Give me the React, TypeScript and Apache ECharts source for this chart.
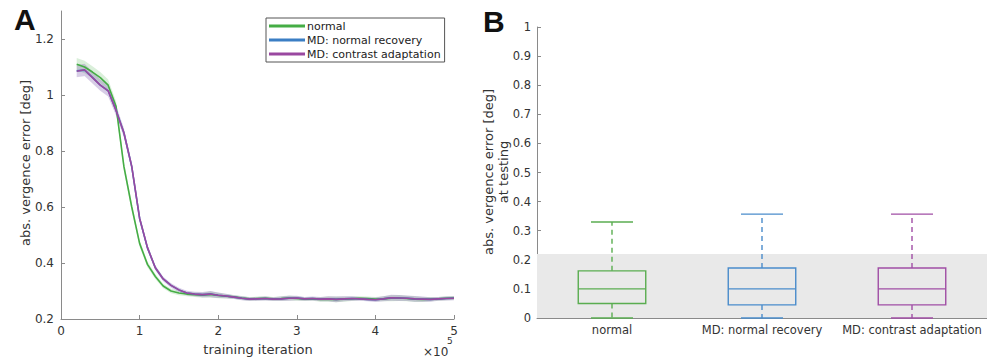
import React, { useEffect, useRef } from "react";
import * as echarts from "echarts";

// ---- Panel A data (training iteration in units of 1e5) ----
const iterations = [
  0.2, 0.3, 0.4, 0.5, 0.6, 0.7, 0.8, 0.9, 1.0, 1.1, 1.2, 1.3, 1.4, 1.5, 1.6, 1.7, 1.8, 1.9, 2.0,
  2.1, 2.2, 2.3, 2.4, 2.5, 2.6, 2.7, 2.8, 2.9, 3.0, 3.1, 3.2, 3.3, 3.4, 3.5, 3.6, 3.7, 3.8, 3.9,
  4.0, 4.1, 4.2, 4.3, 4.4, 4.5, 4.6, 4.7, 4.8, 4.9, 5.0,
];
const normalErr = [
  1.110, 1.100, 1.082, 1.062, 1.035, 0.960, 0.745, 0.600, 0.470, 0.395, 0.352, 0.318, 0.300, 0.293,
  0.289, 0.287, 0.285, 0.288, 0.284, 0.281, 0.279, 0.275, 0.272, 0.273, 0.274, 0.272, 0.273, 0.275,
  0.273, 0.271, 0.272, 0.270, 0.271, 0.270, 0.271, 0.272, 0.274, 0.273, 0.271, 0.272, 0.274, 0.275,
  0.273, 0.271, 0.270, 0.271, 0.272, 0.274, 0.275,
];
const recoveryErr = [
  1.086, 1.089, 1.063, 1.035, 1.015, 0.946, 0.865, 0.744, 0.559, 0.454, 0.383, 0.343, 0.320, 0.304,
  0.293, 0.289, 0.287, 0.289, 0.285, 0.282, 0.278, 0.274, 0.271, 0.272, 0.273, 0.271, 0.272, 0.274,
  0.275, 0.272, 0.273, 0.271, 0.272, 0.270, 0.272, 0.273, 0.272, 0.270, 0.269, 0.272, 0.276, 0.275,
  0.274, 0.272, 0.271, 0.270, 0.272, 0.273, 0.274,
];
const adaptErr = [
  1.085, 1.090, 1.062, 1.035, 1.015, 0.945, 0.865, 0.745, 0.560, 0.455, 0.383, 0.343, 0.320, 0.304,
  0.293, 0.289, 0.287, 0.289, 0.285, 0.282, 0.278, 0.274, 0.271, 0.272, 0.273, 0.271, 0.272, 0.274,
  0.275, 0.272, 0.273, 0.271, 0.272, 0.270, 0.272, 0.273, 0.272, 0.270, 0.269, 0.272, 0.276, 0.275,
  0.274, 0.272, 0.271, 0.270, 0.272, 0.273, 0.274,
];
const bandHalf = [
  0.022, 0.022, 0.021, 0.020, 0.020, 0.018, 0.016, 0.014, 0.012, 0.010, 0.009, 0.008, 0.008, 0.008,
  0.008, 0.008, 0.009, 0.011, 0.010, 0.008, 0.007, 0.007, 0.007, 0.007, 0.007, 0.007, 0.008, 0.009,
  0.008, 0.007, 0.007, 0.008, 0.009, 0.010, 0.009, 0.008, 0.007, 0.007, 0.008, 0.009, 0.011, 0.011,
  0.010, 0.010, 0.009, 0.008, 0.007, 0.007, 0.007,
];

// ---- Panel B data ----
const boxCategories = ["normal", "MD: normal recovery", "MD: contrast adaptation"];
const boxMin = [0, 0, 0];
const boxQ1 = [0.05, 0.045, 0.045];
const boxMedian = [0.1, 0.1, 0.1];
const boxQ3 = [0.162, 0.172, 0.172];
const boxMax = [0.33, 0.357, 0.357];
const shadeLimit = 0.22;

const lineColors = ["#45ad45", "#3b7ec4", "#9a48a0"];
const boxColors = ["#5aad50", "#4a8ccb", "#a04ea5"];
const bandColors = ["rgba(69,173,69,0.2)", "rgba(59,126,196,0.12)", "rgba(154,72,160,0.2)"];
const seriesNames = ["normal", "MD: normal recovery", "MD: contrast adaptation"];

const FONT = "DejaVu Sans";
const AXIS_GRAY = "#8a8a8a";
const TEXT = "#333";

export default function App() {
  const ref = useRef<HTMLDivElement>(null);

  useEffect(() => {
    if (!ref.current) return;
    const chart = echarts.init(ref.current, undefined, { renderer: "svg" });
    const curves = [normalErr, recoveryErr, adaptErr];

    const bandSeries: any[] = [];
    const lineSeries: any[] = [];
    curves.forEach((vals, k) => {
      const bandData = iterations.map((x, i) => [x, vals[i] - bandHalf[i], vals[i] + bandHalf[i]]);
      bandSeries.push({
        type: "custom",
        xAxisIndex: 0,
        yAxisIndex: 0,
        data: bandData,
        encode: { x: 0, y: [1, 2] },
        silent: true,
        z: 1,
        renderItem: (params: any, api: any) => {
          if (params.dataIndex !== 0) return null;
          const upper = bandData.map((d) => api.coord([d[0], d[2]]));
          const lower = bandData.map((d) => api.coord([d[0], d[1]])).reverse();
          return {
            type: "polygon",
            shape: { points: upper.concat(lower) },
            style: { fill: bandColors[k], stroke: "none" },
          };
        },
      });
      lineSeries.push({
        name: seriesNames[k],
        type: "line",
        xAxisIndex: 0,
        yAxisIndex: 0,
        data: iterations.map((x, i) => [x, vals[i]]),
        showSymbol: false,
        lineStyle: { color: lineColors[k], width: 1.6 },
        itemStyle: { color: lineColors[k] },
        z: 3,
      });
    });

    const boxData = boxCategories.map((_, i) => [i, boxMin[i], boxQ1[i], boxMedian[i], boxQ3[i], boxMax[i]]);

    const tickStyle = { show: true, inside: true, length: 4, lineStyle: { color: AXIS_GRAY } };
    const labelStyle = { color: TEXT, fontFamily: FONT, fontSize: 12 };

    chart.setOption({
      animation: false,
      backgroundColor: "#fff",
      grid: [
        { left: 61, top: 11, width: 393, height: 308 },
        { left: 537, top: 27, width: 450, height: 291 },
      ],
      legend: {
        data: seriesNames,
        orient: "vertical",
        left: 266,
        top: 18,
        itemWidth: 36,
        itemHeight: 3,
        itemGap: 2,
        icon: "rect",
        padding: [2, 4, 2, 3],
        borderColor: "#555",
        borderWidth: 1,
        backgroundColor: "#fff",
        textStyle: { fontFamily: FONT, fontSize: 11, color: "#222", padding: [0, 0, 0, -3], lineHeight: 12 },
      },
      xAxis: [
        {
          type: "value",
          gridIndex: 0,
          min: 0,
          max: 5,
          interval: 1,
          axisLine: { show: true, lineStyle: { color: AXIS_GRAY } },
          axisTick: tickStyle,
          splitLine: { show: false },
          axisLabel: { ...labelStyle, margin: 6 },
        },
        {
          type: "category",
          gridIndex: 1,
          data: boxCategories,
          axisLine: { show: true, lineStyle: { color: AXIS_GRAY } },
          axisTick: { show: false },
          splitLine: { show: false },
          axisLabel: { ...labelStyle, fontSize: 11.5, margin: 6, interval: 0 },
        },
      ],
      yAxis: [
        {
          type: "value",
          gridIndex: 0,
          min: 0.2,
          max: 1.3,
          interval: 0.2,
          axisLine: { show: true, lineStyle: { color: AXIS_GRAY } },
          axisTick: tickStyle,
          splitLine: { show: false },
          axisLabel: { ...labelStyle, margin: 7, showMaxLabel: false },
        },
        {
          type: "value",
          gridIndex: 1,
          min: 0,
          max: 1,
          interval: 0.1,
          axisLine: { show: true, lineStyle: { color: AXIS_GRAY } },
          axisTick: tickStyle,
          splitLine: { show: false },
          axisLabel: { ...labelStyle, fontSize: 11.5, margin: 6 },
        },
      ],
      series: [
        ...bandSeries,
        ...lineSeries,
        {
          type: "line",
          xAxisIndex: 1,
          yAxisIndex: 1,
          data: [],
          silent: true,
          z: 0,
          markArea: {
            silent: true,
            itemStyle: { color: "#e9e9e9" },
            data: [[{ yAxis: 0 }, { yAxis: shadeLimit }]],
          },
        },
        {
          type: "custom",
          xAxisIndex: 1,
          yAxisIndex: 1,
          data: boxData,
          encode: { x: 0, y: [1, 2, 3, 4, 5] },
          z: 3,
          renderItem: (params: any, api: any) => {
            const idx = params.dataIndex;
            const color = boxColors[idx];
            const cat = api.value(0);
            const band = api.size([1, 0])[0];
            const boxW = band * 0.45;
            const capW = band * 0.28;
            const pMin = api.coord([cat, api.value(1)]);
            const pQ1 = api.coord([cat, api.value(2)]);
            const pMed = api.coord([cat, api.value(3)]);
            const pQ3 = api.coord([cat, api.value(4)]);
            const pMax = api.coord([cat, api.value(5)]);
            const cx = pMed[0];
            const solid = { stroke: color, lineWidth: 1.4, fill: "none" };
            const dashed = { stroke: color, lineWidth: 1.4, lineDash: [5, 4] };
            return {
              type: "group",
              children: [
                { type: "line", shape: { x1: cx, y1: pQ3[1], x2: cx, y2: pMax[1] }, style: dashed },
                { type: "line", shape: { x1: cx, y1: pQ1[1], x2: cx, y2: pMin[1] }, style: dashed },
                { type: "line", shape: { x1: cx - capW / 2, y1: pMax[1], x2: cx + capW / 2, y2: pMax[1] }, style: solid },
                { type: "line", shape: { x1: cx - capW / 2, y1: pMin[1], x2: cx + capW / 2, y2: pMin[1] }, style: solid },
                {
                  type: "rect",
                  shape: { x: cx - boxW / 2, y: pQ3[1], width: boxW, height: pQ1[1] - pQ3[1] },
                  style: solid,
                },
                { type: "line", shape: { x1: cx - boxW / 2, y1: pMed[1], x2: cx + boxW / 2, y2: pMed[1] }, style: solid },
              ],
            };
          },
        },
      ],
      graphic: [
        {
          type: "text",
          left: 14,
          top: 4,
          style: { text: "A", font: "bold 30px 'Liberation Sans', Arial, sans-serif", fill: "#111" },
        },
        {
          type: "text",
          left: 483,
          top: 6,
          style: { text: "B", font: "bold 30px 'Liberation Sans', Arial, sans-serif", fill: "#111" },
        },
        {
          type: "text",
          x: 25,
          y: 163,
          rotation: Math.PI / 2,
          style: {
            text: "abs. vergence error [deg]",
            fontFamily: FONT,
            fontSize: 13,
            fill: TEXT,
            align: "center",
            verticalAlign: "middle",
          },
        },
        {
          type: "text",
          x: 258,
          y: 349,
          style: {
            text: "training iteration",
            fontFamily: FONT,
            fontSize: 13,
            fill: TEXT,
            align: "center",
            verticalAlign: "middle",
          },
        },
        {
          type: "text",
          x: 423,
          y: 352,
          style: { text: "×10", fontFamily: FONT, fontSize: 12, fill: TEXT, align: "left", verticalAlign: "middle" },
        },
        {
          type: "text",
          x: 447,
          y: 341,
          style: { text: "5", fontFamily: FONT, fontSize: 9, fill: TEXT, align: "left", verticalAlign: "middle" },
        },
        {
          type: "text",
          x: 496,
          y: 172,
          rotation: Math.PI / 2,
          style: {
            text: "abs. vergence error [deg]\nat testing",
            fontFamily: FONT,
            fontSize: 13,
            lineHeight: 15,
            fill: TEXT,
            align: "center",
            verticalAlign: "middle",
          },
        },
      ],
    });

    return () => chart.dispose();
  }, []);

  return (
    <div
      ref={ref}
      style={{ position: "fixed", left: 0, top: 0, width: 987, height: 360, background: "#fff" }}
    />
  );
}
